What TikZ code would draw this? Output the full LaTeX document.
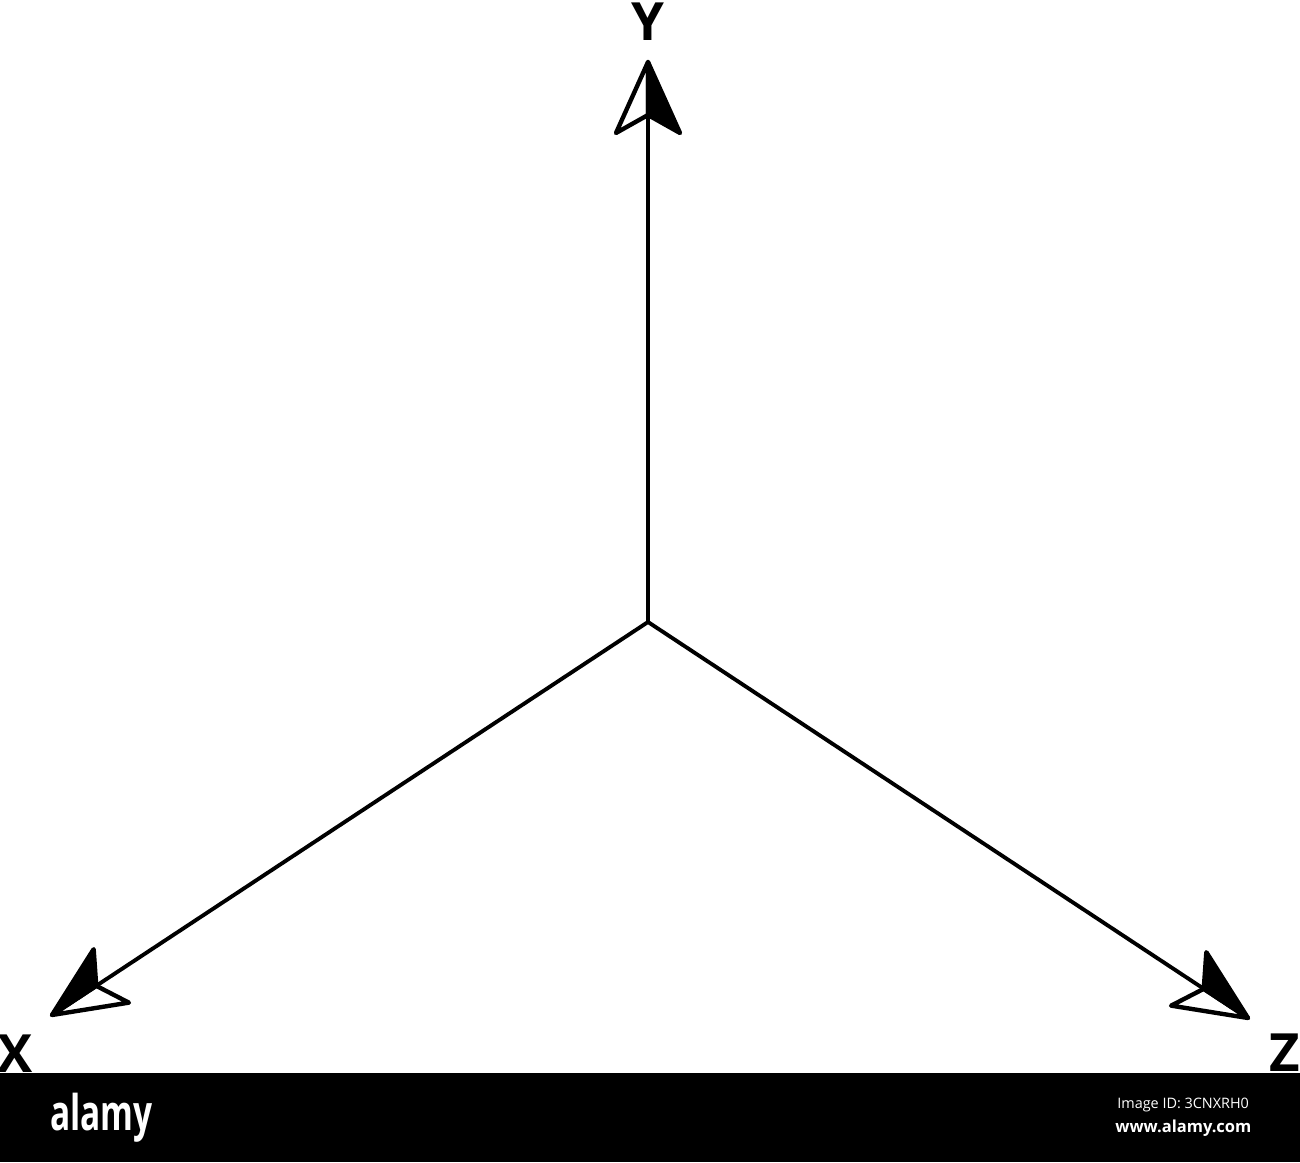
\documentclass[tikz,border=0pt]{standalone}
\usepackage{fontspec}
\usepackage{graphicx}
\setmainfont{Open Sans}
\usetikzlibrary{positioning}

\tikzset{
  axis/.style={line width=2.2pt, line cap=round},
  axislabel/.style={font=\bfseries\fontsize{30}{30}\selectfont, inner sep=0pt},
  mark text/.style={text=white, inner sep=0pt},
  pics/dart/.style={code={
      \filldraw[fill=white, line width=2.5pt, line join=round] (0,0) -- (-71,32) -- (-53,0) -- cycle;
      \filldraw[fill=black, line width=2.5pt, line join=round] (0,0) -- (-71,-32) -- (-53,0) -- cycle;
  }},
}

\begin{document}
\begin{tikzpicture}[x=0.02cm, y=0.02cm]
    \useasboundingbox (-648,-540) rectangle (652,622);
    \coordinate (O) at (0,0);
    \coordinate (ytip) at (0,560);
    \coordinate (xtip) at (-596,-393);
    \coordinate (ztip) at (600,-396);
    % axes
    \draw[axis] (O) -- (ytip);
    \draw[axis] (O) -- (xtip);
    \draw[axis] (O) -- (ztip);
    \pic[rotate=90] at (ytip) {dart};
    \pic[rotate=213.4] at (xtip) {dart};
    \pic[rotate=-33.4, yscale=-1] at (ztip) {dart};
    % labels
    \node[axislabel, above=0.42cm of ytip] (ylabel) {Y};
    \node[axislabel] (xlabel) at (-633,-432) {X};
    \node[axislabel] (zlabel) at (637,-431) {Z};
    % bottom bar
    \fill[black] (-648,-451) rectangle (652,-540);
    \node[mark text, anchor=base west, font=\bfseries\fontsize{28}{28}\selectfont] (logo) at (-598,-508) {\scalebox{0.68}[1]{alamy}};
    \node[mark text, anchor=west, font=\fontsize{8.2}{9}\selectfont] (imageid) at (469,-483) {Image ID: 3CNXRH0};
    \node[mark text, anchor=west, font=\bfseries\fontsize{9.4}{10}\selectfont] (site) at (467,-506) {www.alamy.com};
\end{tikzpicture}
\end{document}
